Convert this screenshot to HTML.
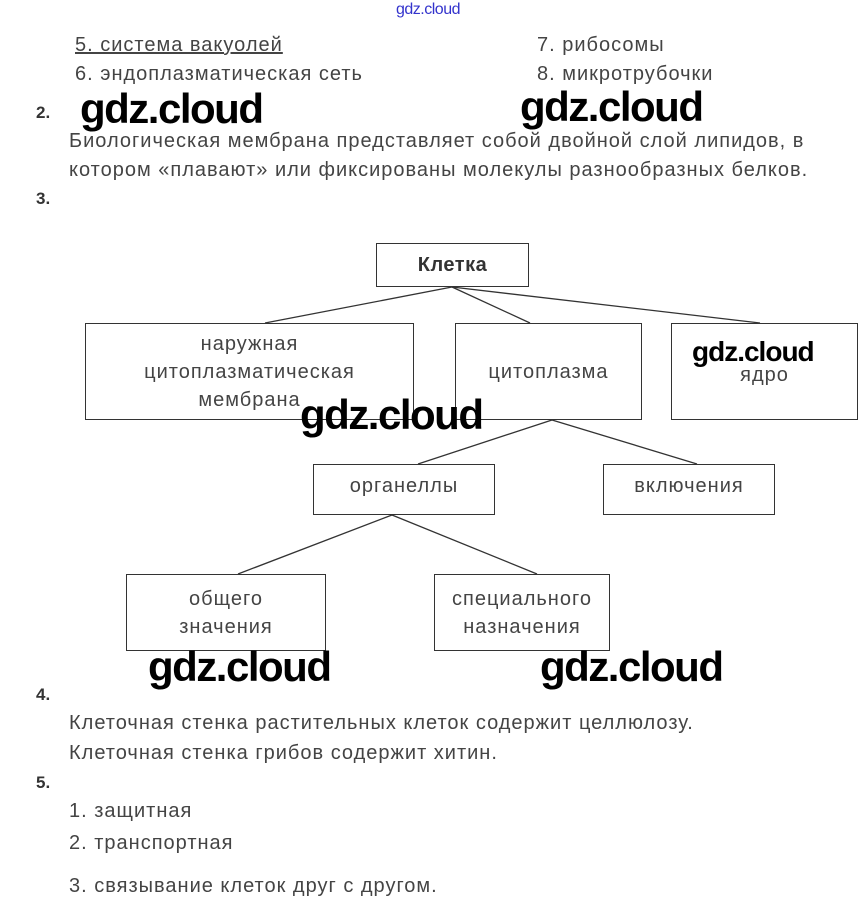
<!DOCTYPE html>
<html><head><meta charset="utf-8"><style>
body{margin:0;width:868px;height:914px;background:#fff;position:relative;overflow:hidden;font-family:"Liberation Sans",sans-serif;color:#444}
.t{position:absolute;font-size:20px;letter-spacing:1px;white-space:nowrap;line-height:1}
.b{font-weight:bold;color:#333;letter-spacing:0}
.w{position:absolute;font-family:"Liberation Sans",sans-serif;font-weight:bold;color:#000;font-size:42px;letter-spacing:-1.5px;line-height:1;white-space:nowrap}
.box{position:absolute;border:1.3px solid #333;background:#fff;box-sizing:border-box;display:flex;align-items:center;justify-content:center;text-align:center;font-size:20px;letter-spacing:1px;line-height:28px;color:#444}
</style></head><body>
<div class="t" style="left:396px;top:2px;font-size:16px;letter-spacing:-0.5px;color:#3333cc">gdz.cloud</div>
<div class="t" style="left:75px;top:35px;text-decoration:underline">5. система вакуолей</div>
<div class="t" style="left:537px;top:35px">7. рибосомы</div>
<div class="t" style="left:75px;top:64px">6. эндоплазматическая сеть</div>
<div class="t" style="left:537px;top:64px">8. микротрубочки</div>
<div class="t b" style="left:36px;top:104px;font-size:17px">2.</div>
<div class="t" style="left:69px;top:131px">Биологическая мембрана представляет собой двойной слой липидов, в</div>
<div class="t" style="left:69px;top:160px">котором «плавают» или фиксированы молекулы разнообразных белков.</div>
<div class="t b" style="left:36px;top:190px;font-size:17px">3.</div>
<svg style="position:absolute;left:0;top:0" width="868" height="914">
<g stroke="#333" stroke-width="1.3">
<line x1="452" y1="287" x2="265" y2="323"/><line x1="452" y1="287" x2="530" y2="323"/><line x1="452" y1="287" x2="760" y2="323"/>
<line x1="552" y1="420" x2="418" y2="464"/><line x1="552" y1="420" x2="697" y2="464"/>
<line x1="392" y1="515" x2="238" y2="574"/><line x1="392" y1="515" x2="537" y2="574"/>
</g></svg>
<div class="box" style="left:376px;top:243px;width:153px;height:44px;font-weight:bold;color:#333;letter-spacing:0.5px">Клетка</div>
<div class="box" style="left:85px;top:323px;width:329px;height:97px">наружная<br>цитоплазматическая<br>мембрана</div>
<div class="box" style="left:455px;top:323px;width:187px;height:97px">цитоплазма</div>
<div class="box" style="left:671px;top:323px;width:187px;height:97px;padding-top:6px">ядро</div>
<div class="box" style="left:313px;top:464px;width:182px;height:51px;align-items:flex-start;padding-top:7px">органеллы</div>
<div class="box" style="left:603px;top:464px;width:172px;height:51px;align-items:flex-start;padding-top:7px">включения</div>
<div class="box" style="left:126px;top:574px;width:200px;height:77px">общего<br>значения</div>
<div class="box" style="left:434px;top:574px;width:176px;height:77px">специального<br>назначения</div>
<div class="w" style="left:80px;top:88px">gdz.cloud</div>
<div class="w" style="left:520px;top:86px">gdz.cloud</div>
<div class="w" style="left:692px;top:338px;font-size:28px;letter-spacing:-1px">gdz.cloud</div>
<div class="w" style="left:300px;top:394px">gdz.cloud</div>
<div class="w" style="left:148px;top:646px">gdz.cloud</div>
<div class="w" style="left:540px;top:646px">gdz.cloud</div>
<div class="t b" style="left:36px;top:686px;font-size:17px">4.</div>
<div class="t" style="left:69px;top:713px">Клеточная стенка растительных клеток содержит целлюлозу.</div>
<div class="t" style="left:69px;top:743px">Клеточная стенка грибов содержит хитин.</div>
<div class="t b" style="left:36px;top:774px;font-size:17px">5.</div>
<div class="t" style="left:69px;top:801px">1. защитная</div>
<div class="t" style="left:69px;top:833px">2. транспортная</div>
<div class="t" style="left:69px;top:876px">3. связывание клеток друг с другом.</div>
</body></html>
